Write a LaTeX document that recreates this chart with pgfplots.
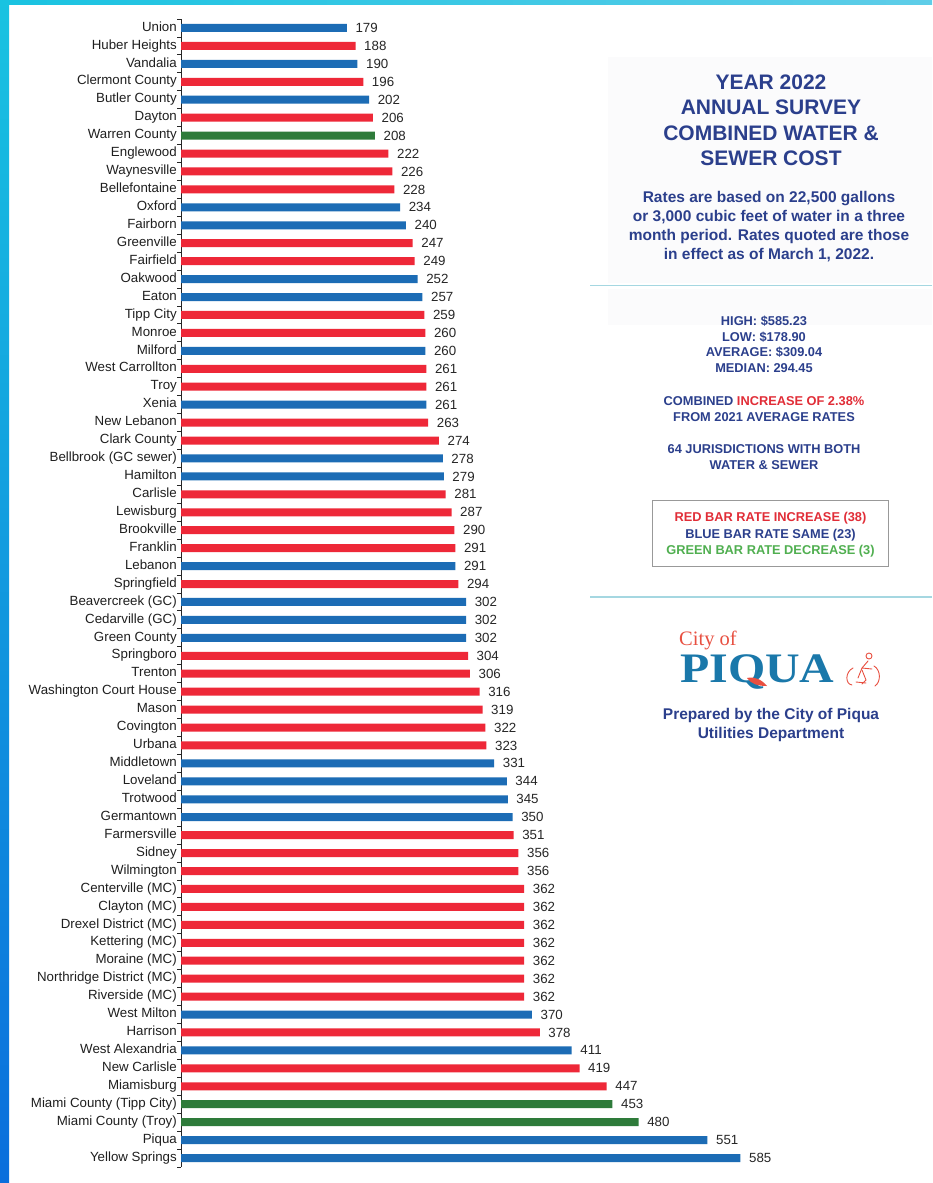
\documentclass[border=0pt]{standalone}
\usepackage{pgfplots}
\pgfplotsset{compat=1.18}
\usepackage{pgfplotstable}
\usepackage{graphicx}
\usepackage{fontspec}
\setmainfont{Liberation Sans}
\newfontfamily\seriffont{Liberation Serif}

\definecolor{barred}{RGB}{238,40,56}
\definecolor{barblue}{RGB}{28,108,181}
\definecolor{bargreen}{RGB}{46,123,58}
\definecolor{navy}{RGB}{43,63,140}
\definecolor{txtred}{RGB}{225,45,55}
\definecolor{txtgreen}{RGB}{80,175,80}
\definecolor{logoblue}{RGB}{26,120,170}
\definecolor{logored}{RGB}{232,80,65}
\definecolor{ruleline}{RGB}{165,215,225}
\definecolor{panel}{RGB}{251,251,252}
\definecolor{stripetop}{RGB}{25,195,225}
\definecolor{stripebot}{RGB}{10,110,220}
\definecolor{topright}{RGB}{95,205,232}

\pgfplotstableread{
i v
1 188
3 196
5 206
7 222
8 226
9 228
12 247
13 249
16 259
17 260
19 261
20 261
22 263
23 274
26 281
27 287
28 290
29 291
31 294
35 304
36 306
37 316
38 319
39 322
40 323
45 351
46 356
47 356
48 362
49 362
50 362
51 362
52 362
53 362
54 362
56 378
58 419
59 447
}\redtab

\pgfplotstableread{
i v
0 179
2 190
4 202
10 234
11 240
14 252
15 257
18 260
21 261
24 278
25 279
30 291
32 302
33 302
34 302
41 331
42 344
43 345
44 350
55 370
57 411
62 551
63 585
}\bluetab

\pgfplotstableread{
i v
6 208
60 453
61 480
}\greentab

\begin{document}
\begin{tikzpicture}[x=1pt,y=1pt]
\useasboundingbox (0,0) rectangle (932,-1183);
\fill[white] (0,0) rectangle (932,-1183);
% decorative stripes
\shade[left color=stripetop, right color=topright] (0,0) rectangle (932,-4.5);
\shade[top color=stripetop, bottom color=stripebot] (0,0) rectangle (9,-1183);
% right panel backgrounds
\fill[panel] (608,-57) rectangle (932,-283);
\fill[panel] (608,-289) rectangle (932,-325);
\draw[ruleline, line width=1.5pt] (590,-285.5) -- (932,-285.5);
\draw[ruleline, line width=1.5pt] (590,-597) -- (932,-597);

\begin{axis}[
  at={(181pt,-19pt)}, anchor=north west,
  scale only axis, width=574pt, height=1148pt,
  xbar, bar width=8pt, bar shift=0pt,
  xmin=8, xmax=600,
  ymin=-0.5, ymax=63.5, y dir=reverse,
  axis x line=none, axis y line*=left,
  xtick=\empty,
  ytick={0,...,63},
  yticklabels={Union, Huber Heights, Vandalia, Clermont County, Butler County, Dayton, Warren County, Englewood, Waynesville, Bellefontaine, Oxford, Fairborn, Greenville, Fairfield, Oakwood, Eaton, Tipp City, Monroe, Milford, West Carrollton, Troy, Xenia, New Lebanon, Clark County, Bellbrook (GC sewer), Hamilton, Carlisle, Lewisburg, Brookville, Franklin, Lebanon, Springfield, Beavercreek (GC), Cedarville (GC), Green County, Springboro, Trenton, Washington Court House, Mason, Covington, Urbana, Middletown, Loveland, Trotwood, Germantown, Farmersville, Sidney, Wilmington, Centerville (MC), Clayton (MC), Drexel District (MC), Kettering (MC), Moraine (MC), Northridge District (MC), Riverside (MC), West Milton, Harrison, West Alexandria, New Carlisle, Miamisburg, Miami County (Tipp City), Miami County (Troy), Piqua, Yellow Springs},
  minor ytick={-0.5,0.5,...,63.5},
  major tick length=0pt, minor tick length=4pt, tick align=outside,
  y axis line style={line width=0.9pt, color=black!85},
  minor tick style={line width=0.9pt, color=black!85},
  yticklabel style={font=\fontsize{13.3}{16}\selectfont, anchor=base east, inner sep=0pt, xshift=-4pt, yshift=-3.2pt, text=black!88},
  /pgf/number format/assume math mode=true,
  point meta=x,
  nodes near coords,
  nodes near coords style={font=\fontsize{13.3}{16}\selectfont, anchor=base west, inner sep=0pt, xshift=8.5pt, yshift=-4.6pt, text=black!85, /pgf/number format/assume math mode=true},
]
\addplot[draw=none, fill=barred] table[x=v, y=i] {\redtab};
\addplot[draw=none, fill=barblue] table[x=v, y=i] {\bluetab};
\addplot[draw=none, fill=bargreen] table[x=v, y=i] {\greentab};
\end{axis}

% Title block
\begin{scope}[every node/.style={anchor=base, inner sep=0pt, text=navy}]
\node[font=\fontsize{21}{24}\selectfont\bfseries] at (771,-89) {YEAR 2022};
\node[font=\fontsize{21}{24}\selectfont\bfseries] at (771,-114.5) {ANNUAL SURVEY};
\node[font=\fontsize{21}{24}\selectfont\bfseries] at (771,-140) {COMBINED WATER \&};
\node[font=\fontsize{21}{24}\selectfont\bfseries] at (771,-165.5) {SEWER COST};

\node[font=\fontsize{15.5}{18}\selectfont\bfseries] at (769,-202.5) {Rates are based on 22,500 gallons};
\node[font=\fontsize{15.5}{18}\selectfont\bfseries] at (769,-221.5) {or 3,000 cubic feet of water in a three};
\node[font=\fontsize{15.5}{18}\selectfont\bfseries] at (769,-240.5) {month period. Rates quoted are those};
\node[font=\fontsize{15.5}{18}\selectfont\bfseries] at (769,-259.5) {in effect as of March 1, 2022.};

\node[font=\fontsize{12.8}{15}\selectfont\bfseries] at (764,-325) {HIGH: \$585.23};
\node[font=\fontsize{12.8}{15}\selectfont\bfseries] at (764,-341) {LOW: \$178.90};
\node[font=\fontsize{12.8}{15}\selectfont\bfseries] at (764,-356.7) {AVERAGE: \$309.04};
\node[font=\fontsize{12.8}{15}\selectfont\bfseries] at (764,-372.7) {MEDIAN: 294.45};

\node[font=\fontsize{12.8}{15}\selectfont\bfseries] at (764,-405) {COMBINED \textcolor{txtred}{INCREASE OF 2.38\%}};
\node[font=\fontsize{12.8}{15}\selectfont\bfseries] at (764,-421.3) {FROM 2021 AVERAGE RATES};
\node[font=\fontsize{12.8}{15}\selectfont\bfseries] at (764,-453.3) {64 JURISDICTIONS WITH BOTH};
\node[font=\fontsize{12.8}{15}\selectfont\bfseries] at (764,-469.3) {WATER \& SEWER};

\node[font=\fontsize{12.8}{15}\selectfont\bfseries, text=txtred] at (770.5,-521.8) {RED BAR RATE INCREASE (38)};
\node[font=\fontsize{12.8}{15}\selectfont\bfseries] at (770.5,-538.4) {BLUE BAR RATE SAME (23)};
\node[font=\fontsize{12.8}{15}\selectfont\bfseries, text=txtgreen] at (770.5,-554.4) {GREEN BAR RATE DECREASE (3)};

\node[font=\fontsize{15.5}{18}\selectfont\bfseries] at (771,-719.5) {Prepared by the City of Piqua};
\node[font=\fontsize{15.5}{18}\selectfont\bfseries] at (771,-738) {Utilities Department};
\end{scope}
\draw[black!40, line width=1pt] (652.7,-500.7) rectangle (888.3,-566.7);

% logo
\node[anchor=base west, inner sep=0pt, text depth=0pt, text=logored, font=\seriffont\fontsize{20.5}{24}\selectfont] at (679,-645.5) {City of};
\node[anchor=base west, inner sep=0pt, text height=28pt, text depth=0pt, text=logoblue] at (680,-682.5) {\scalebox{1.14}[1]{\seriffont\bfseries\fontsize{42}{42}\selectfont PIQUA}};
\fill[logored] (747,-678) .. controls (755,-676) and (762,-680) .. (767,-686) .. controls (758,-686) and (751,-684) .. (747,-678) -- cycle;
\begin{scope}[logored, line width=0.9pt, line cap=round]
\draw (853,-668) .. controls (845,-672) and (845,-684) .. (852,-685);
\draw (874,-666) .. controls (881,-670) and (881,-682) .. (875,-686);
\draw (868,-661) -- (862,-668) -- (858,-678);
\draw (862,-668) -- (872,-669);
\draw (862,-670) -- (866,-680) -- (862,-684);
\draw (869,-656) circle (3);
\draw (856,-682) -- (866,-683);
\end{scope}
\end{tikzpicture}
\end{document}
